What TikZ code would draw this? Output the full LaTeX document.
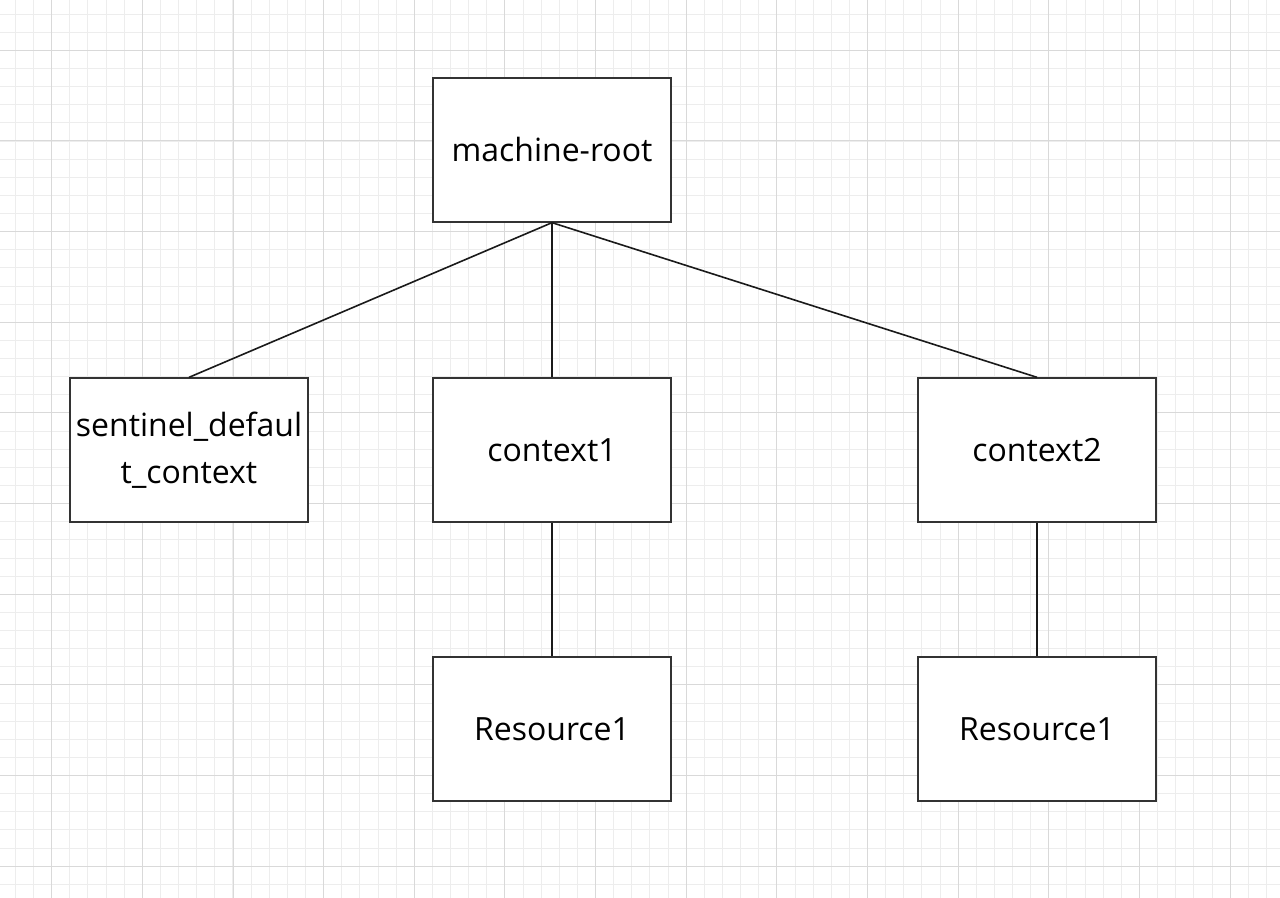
\documentclass[tikz,border=0pt]{standalone}
\usepackage{fontspec}
\setmainfont{Open Sans}
\usepackage{tikz}
\usetikzlibrary{positioning,calc}
\definecolor{gridminor}{HTML}{EDEDED}
\definecolor{gridmajor}{HTML}{D9D9D9}
\definecolor{boxedge}{HTML}{333333}
\definecolor{linkcol}{HTML}{1A1A1A}

\begin{document}
\begin{tikzpicture}[x=0.75pt, y=-0.75pt,
    ctxbox/.style={draw=boxedge, line width=1.5pt, fill=white,
      minimum width=179pt, minimum height=107.5pt, inner sep=0pt,
      align=center, font=\fontsize{24}{35}\selectfont, text=black},
    link/.style={draw=linkcol, line width=1.2pt}]
    \useasboundingbox (0,0) rectangle (1280,898);
    \fill[white] (0,0) rectangle (1280,898);
    % background grid: minor every 18.13px, major every 5 cells
    \foreach \i in {0,...,70}
      \draw[gridminor, line width=0.75pt] ({15.4+18.13*\i},0) -- ++(0,898);
    \foreach \j in {0,...,49}
      \draw[gridminor, line width=0.75pt] (0,{14.1+18.13*\j}) -- ++(1280,0);
    \foreach \i in {0,...,13}
      \draw[gridmajor, line width=0.75pt] ({51.7+90.65*\i},0) -- ++(0,898);
    \foreach \j in {0,...,9}
      \draw[gridmajor, line width=0.75pt] (0,{50.3+90.65*\j}) -- ++(1280,0);
    % tree
    \node[ctxbox] (root) at (552,150) {machine-root};
    \node[ctxbox] (sentinel) at (189,450) {sentinel\_defaul\\t\_context};
    \node[ctxbox] (ctxone) at (552,450) {context1};
    \node[ctxbox] (ctxtwo) at (1037,450) {context2};
    \node[ctxbox] (resone) at (552,729) {Resource1};
    \node[ctxbox] (restwo) at (1037,729) {Resource1};
    \draw[link] (root.south) -- (sentinel.north);
    \draw[link] (root.south) -- (ctxone.north);
    \draw[link] (root.south) -- (ctxtwo.north);
    \draw[link] (ctxone.south) -- (resone.north);
    \draw[link] (ctxtwo.south) -- (restwo.north);
  \end{tikzpicture}
\end{document}
